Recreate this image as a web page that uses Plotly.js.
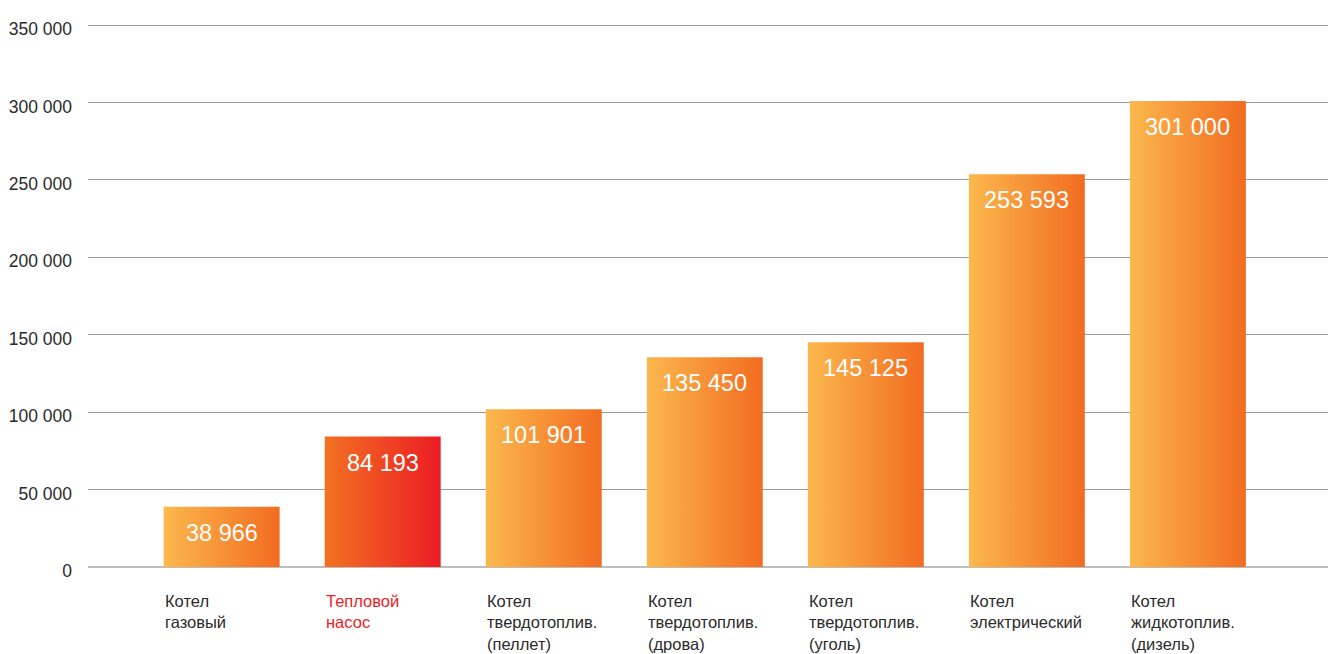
<!DOCTYPE html>
<html>
<head>
<meta charset="utf-8">
<script src="https://cdn.plot.ly/plotly-3.0.1.min.js"></script>
<style>
  html, body { margin: 0; padding: 0; background: #ffffff; }
  #chart { width: 1328px; height: 654px; }
</style>
</head>
<body>
<div id="chart"></div>
<script>
// ---- data ----
const categories = [
  'Котел газовый',
  'Тепловой насос',
  'Котел твердотоплив. (пеллет)',
  'Котел твердотоплив. (дрова)',
  'Котел твердотоплив. (уголь)',
  'Котел электрический',
  'Котел жидкотоплив. (дизель)'
];
const categoryLabels = [
  'Котел<br>газовый',
  'Тепловой<br>насос',
  'Котел<br>твердотоплив.<br>(пеллет)',
  'Котел<br>твердотоплив.<br>(дрова)',
  'Котел<br>твердотоплив.<br>(уголь)',
  'Котел<br>электрический',
  'Котел<br>жидкотоплив.<br>(дизель)'
];
const values = [38966, 84193, 101901, 135450, 145125, 253593, 301000];
const highlightIndex = 1; // Тепловой насос
const yTickVals = [0, 50000, 100000, 150000, 200000, 250000, 300000, 350000];
const yTickText = ['0', '50 000', '100 000', '150 000', '200 000', '250 000', '300 000', '350 000'];

// ---- styles ----
const FONT = '"Liberation Sans", Arial, Helvetica, sans-serif';
const TEXT_DARK = '#2b2b2b';
const RED = '#ed1c24';

function fmt(v) {
  return String(v).replace(/\B(?=(\d{3})+(?!\d))/g, ' ');
}

const trace = {
  type: 'bar',
  x: categories,
  y: values,
  marker: { color: values.map((v, i) => i === highlightIndex ? '#ef4a23' : '#f7923a'), line: { width: 0 } },
  hoverinfo: 'none',
  showlegend: false
};

const annotations = [];
values.forEach((v, i) => {
  annotations.push({
    xref: 'x', yref: 'y', x: categories[i], y: v,
    yshift: -26, yanchor: 'middle', xanchor: 'center',
    text: fmt(v), showarrow: false,
    font: { family: FONT, size: 23.5, color: '#ffffff' }
  });
  annotations.push({
    xref: 'x', yref: 'paper', x: categories[i], y: 0,
    xanchor: 'left', yanchor: 'top', xshift: -59, yshift: -23,
    align: 'left', text: categoryLabels[i], showarrow: false,
    font: { family: FONT, size: 16.5, color: i === highlightIndex ? RED : TEXT_DARK }
  });
});

const layout = {
  width: 1328, height: 654,
  margin: { l: 88, r: 0, t: 23, b: 87, pad: 0 },
  paper_bgcolor: '#ffffff', plot_bgcolor: '#ffffff',
  bargap: 0.28,
  font: { family: FONT, size: 17, color: TEXT_DARK },
  xaxis: {
    type: 'category',
    range: [-0.83, 6.87],
    showticklabels: false, showgrid: false, zeroline: false, showline: false,
    fixedrange: true
  },
  yaxis: {
    range: [0, 351291],
    tickvals: yTickVals, ticktext: yTickText,
    showgrid: true, gridcolor: '#9a9a9a', gridwidth: 1,
    zeroline: true, zerolinecolor: '#bdbdbd', zerolinewidth: 2,
    showline: false, ticks: '',
    ticklabelstandoff: 15, ticklabelshift: 4,
    tickfont: { family: FONT, size: 17.5, color: TEXT_DARK },
    fixedrange: true
  },
  annotations: annotations
};

function applyGradients(gd) {
  const svg = gd.querySelector('.main-svg');
  if (!svg) return;
  let defs = svg.querySelector('defs');
  const ns = 'http://www.w3.org/2000/svg';
  if (!defs) { defs = document.createElementNS(ns, 'defs'); svg.insertBefore(defs, svg.firstChild); }
  function grad(id, c1, c2) {
    if (svg.querySelector('#' + id)) return;
    const g = document.createElementNS(ns, 'linearGradient');
    g.setAttribute('id', id);
    g.setAttribute('x1', '0'); g.setAttribute('y1', '0');
    g.setAttribute('x2', '1'); g.setAttribute('y2', '0');
    const s1 = document.createElementNS(ns, 'stop');
    s1.setAttribute('offset', '0'); s1.setAttribute('stop-color', c1);
    const s2 = document.createElementNS(ns, 'stop');
    s2.setAttribute('offset', '1'); s2.setAttribute('stop-color', c2);
    g.appendChild(s1); g.appendChild(s2);
    defs.appendChild(g);
  }
  grad('gradOrange', '#fbb84d', '#f26c21');
  grad('gradRed', '#f27222', '#ec1c24');
  const paths = gd.querySelectorAll('.barlayer .point path');
  paths.forEach((p, i) => {
    p.style.fill = (i === highlightIndex) ? 'url(#gradRed)' : 'url(#gradOrange)';
    p.style.fillOpacity = 1;
  });
}

const gd = document.getElementById('chart');
Plotly.newPlot(gd, [trace], layout, { displayModeBar: false, staticPlot: true }).then(() => {
  applyGradients(gd);
  gd.on && gd.on('plotly_afterplot', () => applyGradients(gd));
});
</script>
</body>
</html>
